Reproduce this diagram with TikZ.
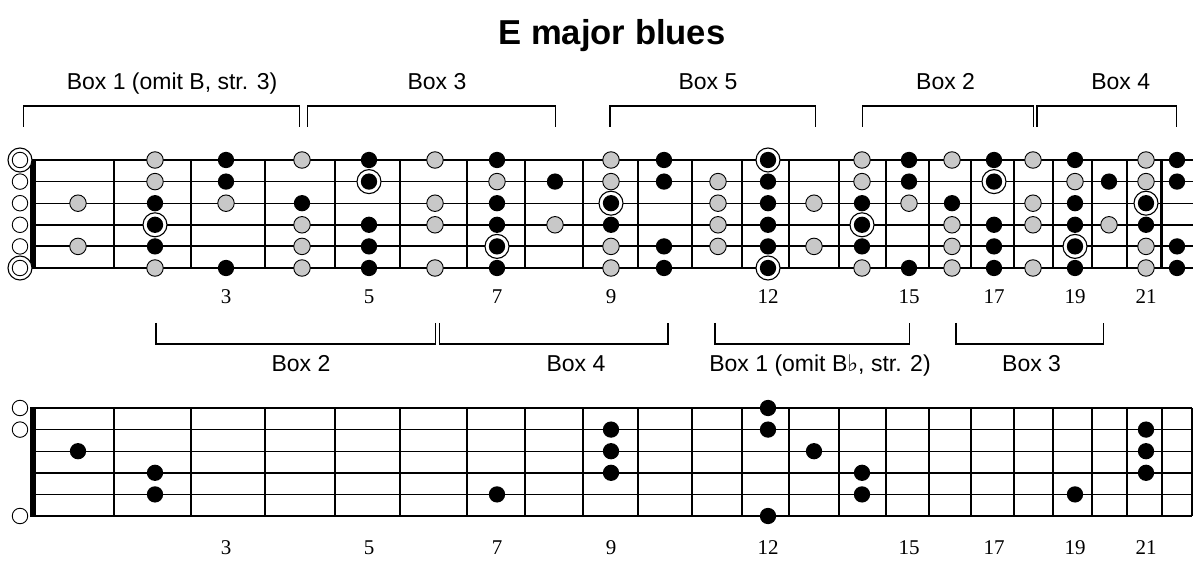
\documentclass[tikz,border=0pt]{standalone}
\usepackage{fontspec}
\setmainfont{Liberation Serif}
\setsansfont{Liberation Sans}
\newfontfamily\symfont{DejaVu Sans}
\usepackage{tikz}
\definecolor{dotgray}{RGB}{200,200,200}

\begin{document}
\begin{tikzpicture}[x=1pt,y=-1pt,
    fret/.style={line width=2pt},
    gdot/.style={circle, draw, line width=0.9pt, fill=dotgray, minimum size=16.5pt, inner sep=0pt},
    bdot/.style={circle, fill=black, minimum size=16.3pt, inner sep=0pt},
    ring/.style={circle, draw, line width=1.1pt, fill=white, minimum size=24pt, inner sep=0pt},
    openstr/.style={circle, draw, line width=0.9pt, fill=white, minimum size=15.5pt, inner sep=0pt},
    boxlabel/.style={font=\sffamily\fontsize{23}{26}\selectfont, anchor=base, inner sep=0pt},
    fretnum/.style={font=\fontsize{21}{24}\selectfont, anchor=base, inner sep=0pt}]
  \useasboundingbox (0,0) rectangle (1200,577);

  \node[font=\sffamily\bfseries\fontsize{34.6}{40}\selectfont, anchor=base, inner sep=0pt]
    (title) at (612,45) {E major blues};

  % fret centres and strings
  \foreach \x [count=\i from 0] in {20,78,155,226,302,369,435,497,555,611,664,718,768,814,862,909,952,994,1033,1075,1109,1146,1177}
    \coordinate (c\i) at (\x,0);
  \foreach \y [count=\j] in {160,181.6,203.2,224.8,246.4,268} {
    \coordinate (s\j) at (0,\y);
    \coordinate (t\j) at (0,\y+248);
  }
  \coordinate (toprow) at (0,304);
  \coordinate (botrow) at (0,554);

  % the two fretboards
  \foreach \x in {113.5,190.7,265,335,400,466.7,525,582.7,637.5,692.3,742.3,789,839,886,928.5,971,1014,1053.3,1092.3,1126.7} {
    \draw[fret] (\x,160) -- (\x,268);
    \draw[fret] (\x,408) -- (\x,516);
  }
  \draw[line width=3pt] (1161.7,160) -- (1161.7,268);
  \draw[fret] (1161.7,408) -- (1161.7,516);
  \draw[fret] (1192,408) -- (1192,516);
  \foreach \j/\w in {1/1.4,2/1,3/1,4/1.8,5/1.8,6/1.4} {
    \draw[line width=\w pt] (33,0 |- s\j) -- (1193,0 |- s\j);
    \draw[line width=\w pt] (33,0 |- t\j) -- (1192,0 |- t\j);
  }
  \draw[line width=5.5pt] (33,159.3) -- (33,268.7);
  \draw[line width=5.5pt] (33,407.3) -- (33,516.7);

  % open strings
  \foreach \s in {1,6} \node[ring] (or\s) at (c0 |- s\s) {};
  \foreach \s in {1,...,6} \node[openstr] (o\s) at (c0 |- s\s) {};
  \foreach \s in {1,2,6} \node[openstr] (p\s) at (c0 |- t\s) {};

  % upper board
  \foreach \f/\s in {1/3,1/5,2/1,2/2,2/6,3/3,4/1,4/4,4/5,4/6,6/1,6/3,6/4,6/6,7/2,8/4,9/1,9/2,9/5,9/6,11/2,11/3,11/4,11/5,13/3,13/5,14/1,14/2,14/6,15/3,16/1,16/4,16/5,16/6,18/1,18/3,18/4,18/6,19/2,20/4,21/1,21/2,21/5,21/6}
    \node[gdot] (g\f-\s) at (c\f |- s\s) {};
  \foreach \f/\s in {2/3,2/5,3/1,3/2,3/6,4/3,5/1,5/4,5/5,5/6,7/1,7/3,7/4,7/6,8/2,9/4,10/1,10/2,10/5,10/6,12/2,12/3,12/4,12/5,14/3,14/5,15/1,15/2,15/6,16/3,17/1,17/4,17/5,17/6,19/1,19/3,19/4,19/6,20/2,21/4,22/1,22/2,22/5,22/6}
    \node[bdot] (b\f-\s) at (c\f |- s\s) {};
  \foreach \f/\s in {2/4,5/2,7/5,9/3,12/1,12/6,14/4,17/2,19/5,21/3} {
    \node[ring] (r\f-\s) at (c\f |- s\s) {};
    \node[bdot] (b\f-\s) at (c\f |- s\s) {};
  }

  % lower board
  \foreach \f/\s in {1/3,2/4,2/5,7/5,9/2,9/3,9/4,12/1,12/2,12/6,13/3,14/4,14/5,19/5,21/2,21/3,21/4}
    \node[bdot] (d\f-\s) at (c\f |- t\s) {};

  % fret numbers
  \foreach \n in {3,5,7,9,12,15,17,19,21} {
    \node[fretnum] (tn\n) at (c\n |- toprow) {\n};
    \node[fretnum] (bn\n) at (c\n |- botrow) {\n};
  }

  % boxes
  \foreach \a/\b/\m/\txt [count=\i] in {23.3/299.3/172/{Box 1 (omit B, str. 3)},307.3/555.6/437/{Box 3},610/815.7/708/{Box 5},862.8/1033.3/945.6/{Box 2},1037/1176.7/1120.7/{Box 4}} {
    \draw[line width=1.2pt] (\a,127) -- (\a,106) -- (\b,106) -- (\b,127);
    \node[boxlabel] (ub\i) at (\m,89.5) {\txt};
  }
  \foreach \a/\b/\m/\txt [count=\i] in {156/435.6/301/{Box 2},439.8/668/576/{Box 4},715/909.6/820/{Box 1 (omit B{\symfont\bfseries ♭}, str. 2)},956/1103.8/1031.6/{Box 3}} {
    \draw[line width=1.2pt] (\a,323) -- (\a,344) -- (\b,344) -- (\b,323);
    \node[boxlabel] (lb\i) at (\m,371.5) {\txt};
  }
\end{tikzpicture}
\end{document}
